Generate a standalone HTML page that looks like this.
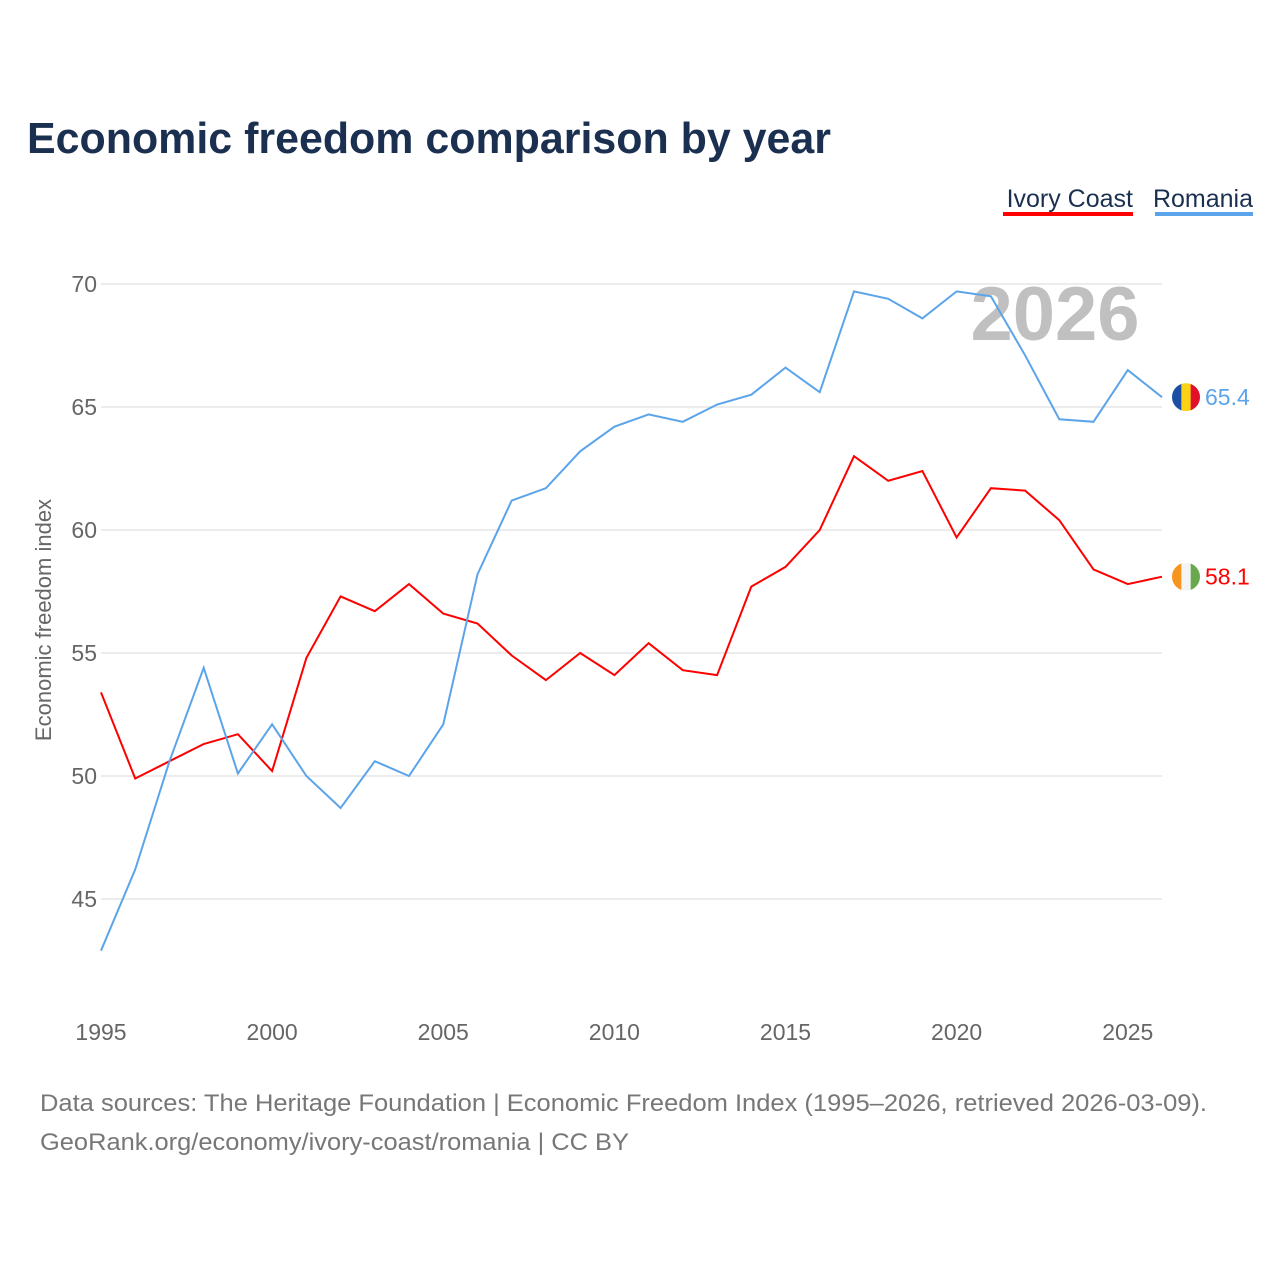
<!DOCTYPE html>
<html><head><meta charset="utf-8"><style>
body{margin:0;background:#fff;font-family:"Liberation Sans",sans-serif;}
svg{display:block}
</style></head><body>
<svg id="chart" width="1280" height="1280" viewBox="0 0 1280 1280">
<text x="27" y="153" font-size="44" font-weight="bold" fill="#1b3050" textLength="804" lengthAdjust="spacingAndGlyphs">Economic freedom comparison by year</text>
<g>
<text x="1133" y="207" text-anchor="end" font-size="25" fill="#1b3050">Ivory Coast</text>
<rect x="1003" y="212" width="130" height="4" fill="#ff0000"/>
<text x="1253" y="207" text-anchor="end" font-size="25" fill="#1b3050">Romania</text>
<rect x="1155" y="212" width="98" height="4" fill="#5ba4ea"/>
</g>
<text x="1055" y="340" text-anchor="middle" font-size="76" font-weight="bold" fill="#c0c0c0">2026</text>
<g id="grid"></g><g id="axes"></g><g id="lines"></g><g id="ends"></g>
<text transform="translate(51,620) rotate(-90)" text-anchor="middle" font-size="22" fill="#666">Economic freedom index</text>
<text x="40" y="1111" font-size="24" fill="#777" textLength="1167" lengthAdjust="spacingAndGlyphs">Data sources: The Heritage Foundation | Economic Freedom Index (1995–2026, retrieved 2026-03-09).</text>
<text x="40" y="1150" font-size="24" fill="#777" textLength="589" lengthAdjust="spacingAndGlyphs">GeoRank.org/economy/ivory-coast/romania | CC BY</text>
</svg>
<script>
const years=[1995,1996,1997,1998,1999,2000,2001,2002,2003,2004,2005,2006,2007,2008,2009,2010,2011,2012,2013,2014,2015,2016,2017,2018,2019,2020,2021,2022,2023,2024,2025,2026];
const romania=[42.9,46.2,50.6,54.4,50.1,52.1,50.0,48.7,50.6,50.0,52.1,58.2,61.2,61.7,63.2,64.2,64.7,64.4,65.1,65.5,66.6,65.6,69.7,69.4,68.6,69.7,69.5,67.1,64.5,64.4,66.5,65.4];
const ivoryCoast=[53.4,49.9,50.6,51.3,51.7,50.2,54.8,57.3,56.7,57.8,56.6,56.2,54.9,53.9,55.0,54.1,55.4,54.3,54.1,57.7,58.5,60.0,63.0,62.0,62.4,59.7,61.7,61.6,60.4,58.4,57.8,58.1];
const yTicks=[45,50,55,60,65,70];
const xTicks=[1995,2000,2005,2010,2015,2020,2025];
const NS="http://www.w3.org/2000/svg";
const xs=y=>101+(y-1995)*(1162-101)/31;
const ys=v=>284+(70-v)*24.6;
function mk(t,a,p){const e=document.createElementNS(NS,t);for(const k in a)e.setAttribute(k,a[k]);p.appendChild(e);return e;}
const grid=document.getElementById('grid'),axes=document.getElementById('axes'),lines=document.getElementById('lines'),ends=document.getElementById('ends');
yTicks.forEach(v=>{
 const l=mk('line',{x1:101,x2:1162,y1:ys(v),y2:ys(v),stroke:'#e6e6e6','stroke-width':1.5},grid);
 
 
 const t=mk('text',{x:97,y:ys(v)+8,'text-anchor':'end','font-size':23,fill:'#666'},axes);t.textContent=v;
 
 
});
xTicks.forEach(y=>{
 const t=mk('text',{x:xs(y),y:1040,'text-anchor':'middle','font-size':23,fill:'#666'},axes);t.textContent=y;
 
 
});
function series(vals,color,name,flag){
 const d=vals.map((v,i)=>(i?'L':'M')+xs(years[i]).toFixed(1)+','+ys(v).toFixed(1)).join('');
 const p=mk('path',{d:d,fill:'none',stroke:color,'stroke-width':2},lines);
 
 
 const last=vals[vals.length-1],cy=ys(last),cx=1186;
 const g=mk('g',{},ends);
 
 
 const cp=mk('clipPath',{id:'c'+name},g);
 mk('circle',{cx:cx,cy:cy,r:14},cp);
 flag.forEach((c,i)=>mk('rect',{x:cx-14+i*28/3,y:cy-14,width:28/3+0.5,height:28,fill:c,'clip-path':'url(#c'+name+')'},g));
 const t=mk('text',{x:1205,y:cy+8,'font-size':23,fill:color},ends);t.textContent=last.toFixed(1);
 
 
}
series(ivoryCoast,'#ff0000','ivory-coast',['#f7941d','#f4f4f4','#6aa84f']);
series(romania,'#5ba4ea','romania',['#1a4fa3','#fcd116','#e0102a']);
</script>
</body></html>
